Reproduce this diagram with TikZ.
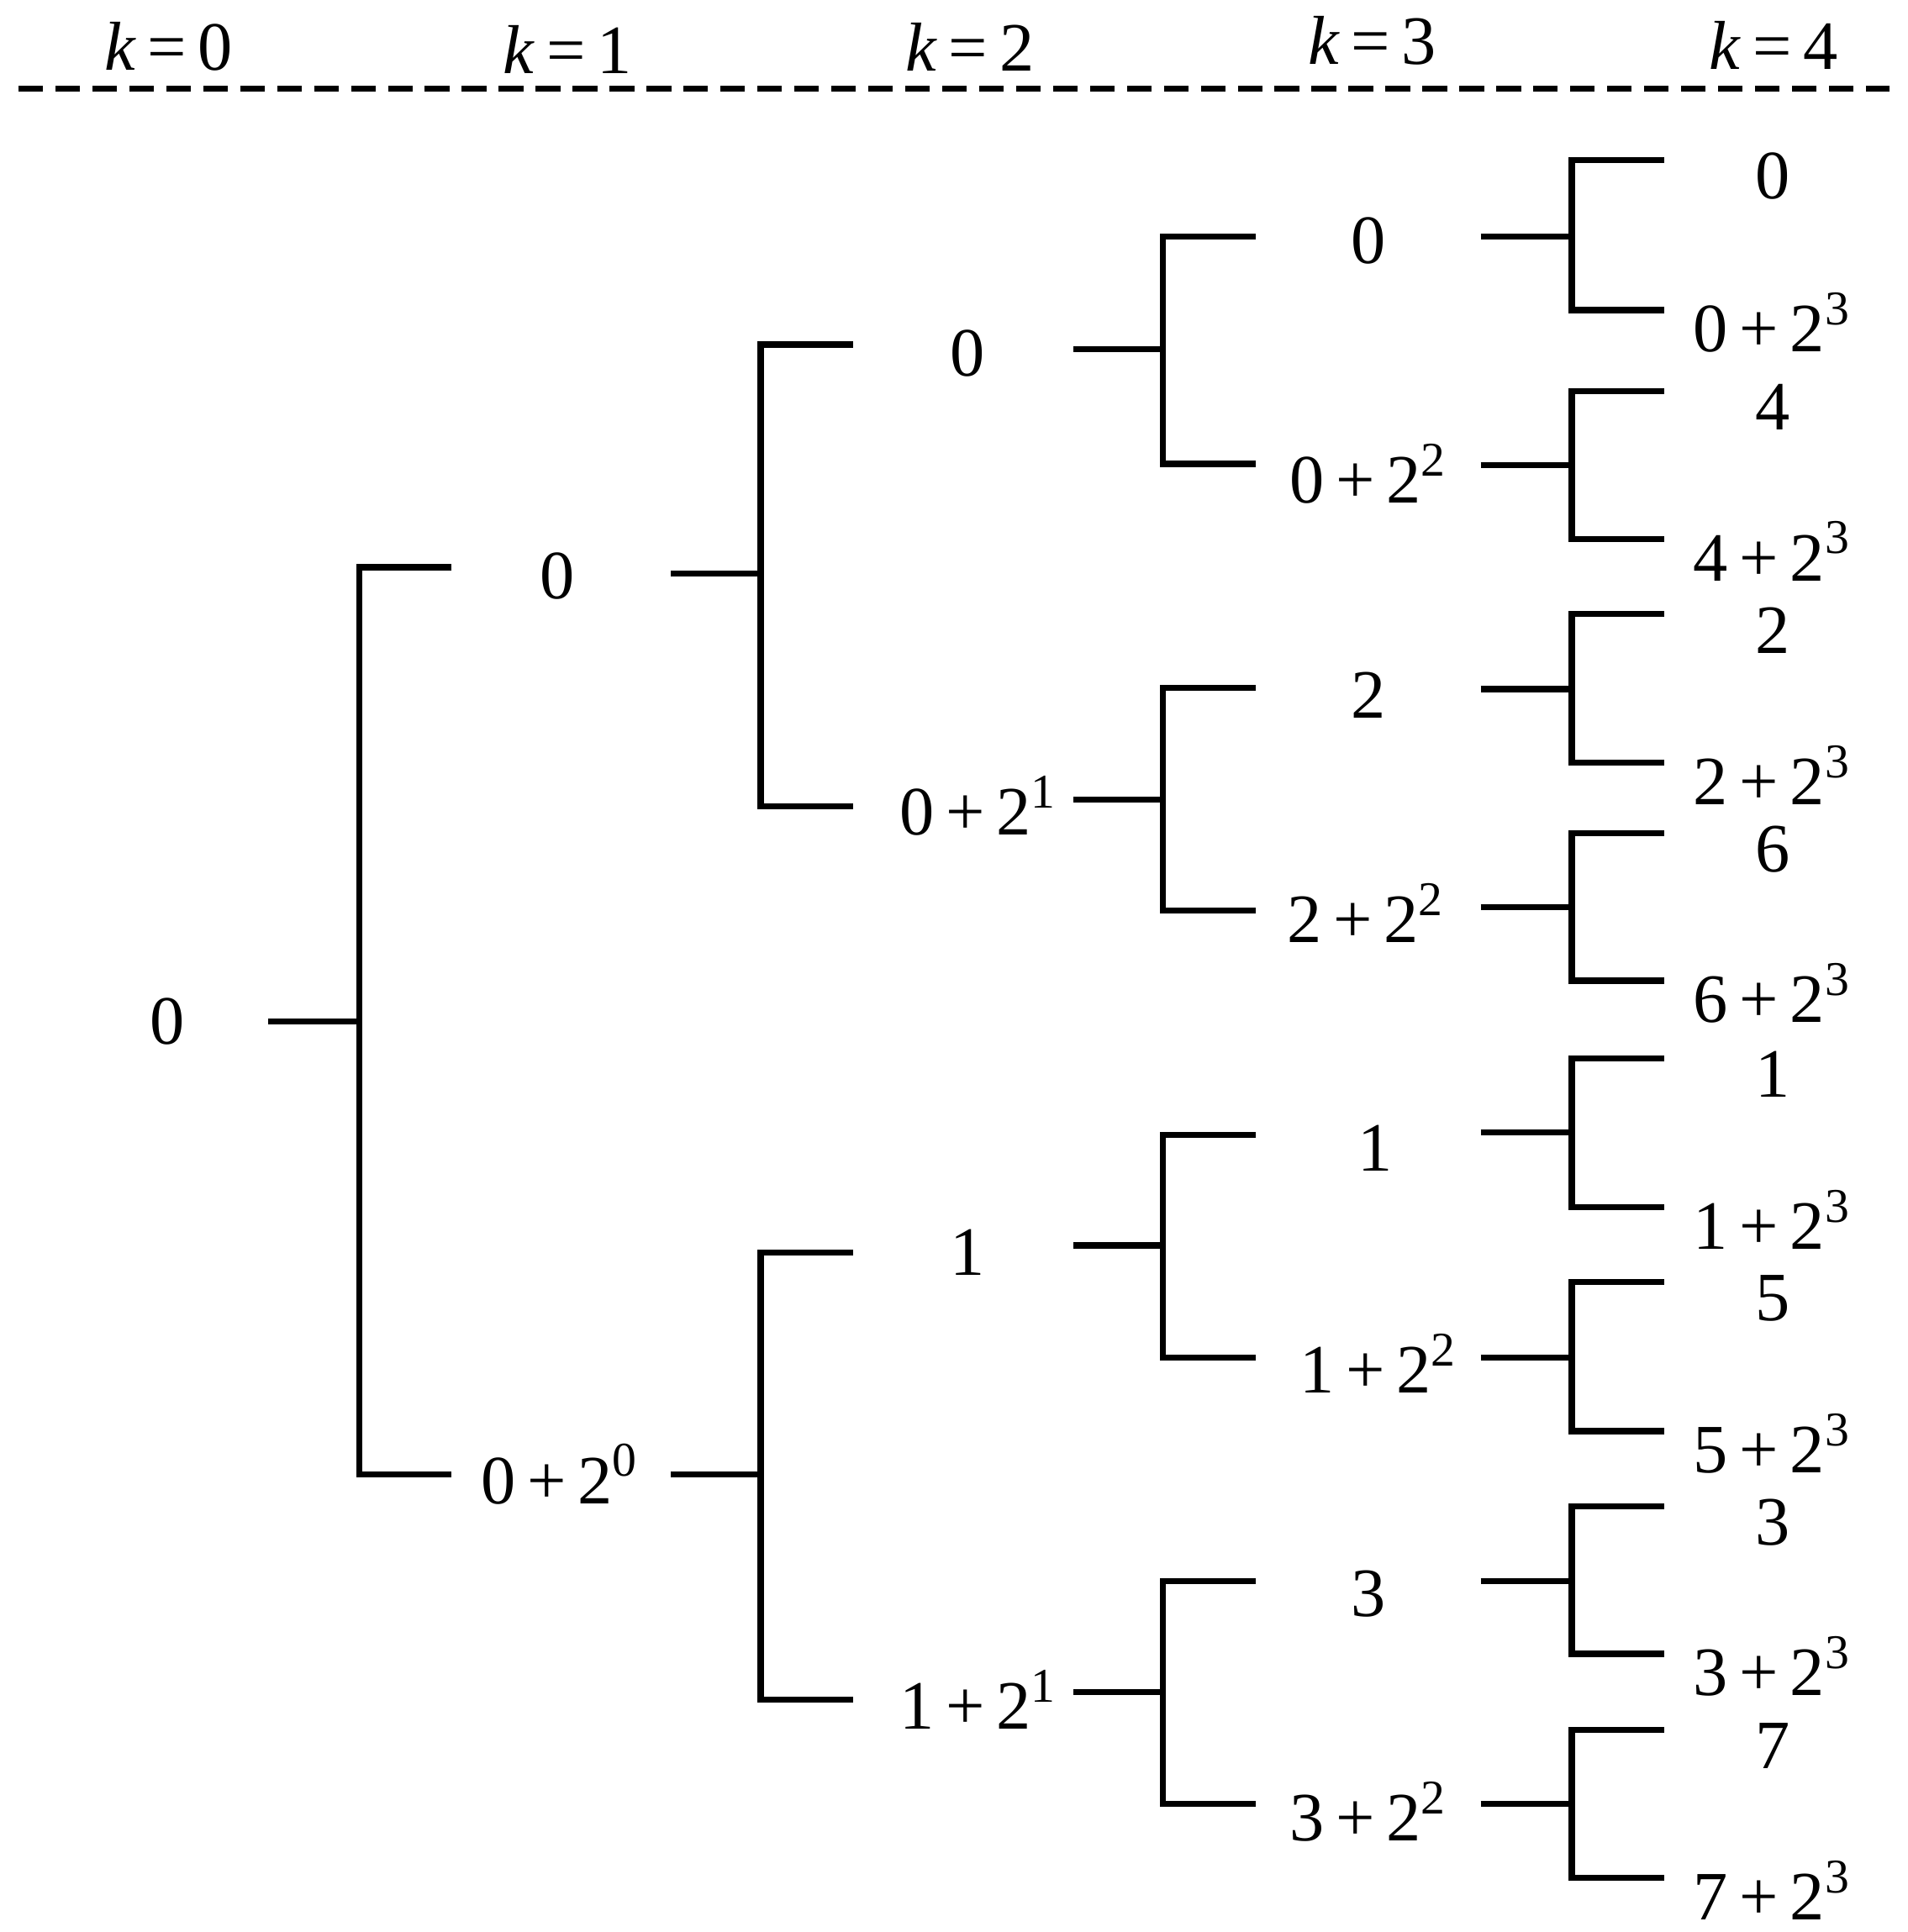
\documentclass[tikz,border=0pt]{standalone}
\usepackage{fontspec}
\setmainfont{Liberation Serif}
\newcommand{\pw}[2]{#1\,+\,2\textsuperscript{#2}}
\begin{document}
\begin{tikzpicture}[x=0.01cm,y=-0.01cm,
  lab/.style={inner sep=0pt,font=\fontsize{16}{19}\selectfont},
  ln/.style={line width=1.4pt}]
\useasboundingbox (0,0) rectangle (1550,1570);
\draw[ln,dash pattern=on 0.2cm off 0.1cm] (15,72) -- (1535,72);
\foreach \x/\y/\k in {137/38/0,461/40/1,788/38/2,1115/33/3,1441/37/4}
  \node[lab] (k\k) at (\x,\y) {\textit{k}\,=\,\k};
% level 0
\node[lab] (n0) at (136,830) {0};
\coordinate (s0) at (218,830);\coordinate (j0) at (292,830);
\draw[ln] (s0) -- (j0);
\draw[ln] (367,461) -| (j0) |- (367,1198);
% level 1
\node[lab] (a1) at (453,468) {0};
\node[lab] (a2) at (455,1198) {\pw{0}{0}};
\foreach \y/\t/\b in {466/280/655,1198/1018/1381}{
  \draw[ln] (545,\y) -- (618,\y);
  \draw[ln] (693,\t) -| (618,\y) |- (693,\b);}
% level 2
\node[lab] (b1) at (786,287) {0};
\node[lab] (b2) at (795,655) {\pw{0}{1}};
\node[lab] (b3) at (786,1018) {1};
\node[lab] (b4) at (795,1381) {\pw{1}{1}};
\foreach \y/\t/\b in {284/192/377,650/559/740,1012/922/1103,1375/1285/1466}{
  \draw[ln] (872,\y) -- (945,\y);
  \draw[ln] (1020,\t) -| (945,\y) |- (1020,\b);}
% level 3
\node[lab] (c1) at (1112,196) {0};
\node[lab] (c2) at (1112,385) {\pw{0}{2}};
\node[lab] (c3) at (1112,565) {2};
\node[lab] (c4) at (1110,742) {\pw{2}{2}};
\node[lab] (c5) at (1117,933) {1};
\node[lab] (c6) at (1120,1108) {\pw{1}{2}};
\node[lab] (c7) at (1112,1295) {3};
\node[lab] (c8) at (1112,1472) {\pw{3}{2}};
\foreach \y/\t/\b in {192/130/252,378/318/438,560/499/620,737/677/797,920/860/981,1103/1042/1163,1285/1224/1344,1466/1406/1526}{
  \draw[ln] (1203,\y) -- (1277,\y);
  \draw[ln] (1352,\t) -| (1277,\y) |- (1352,\b);}
% level 4
\foreach \v/\t/\b [count=\i] in {0/130/252,4/318/438,2/499/620,6/677/797,1/860/981,5/1042/1163,3/1224/1344,7/1406/1526}{
  \node[lab] (d\i a) at (1440,\t+13) {\v};
  \node[lab] (d\i b) at (1440,\b+10) {\pw{\v}{3}};}
\end{tikzpicture}
\end{document}
